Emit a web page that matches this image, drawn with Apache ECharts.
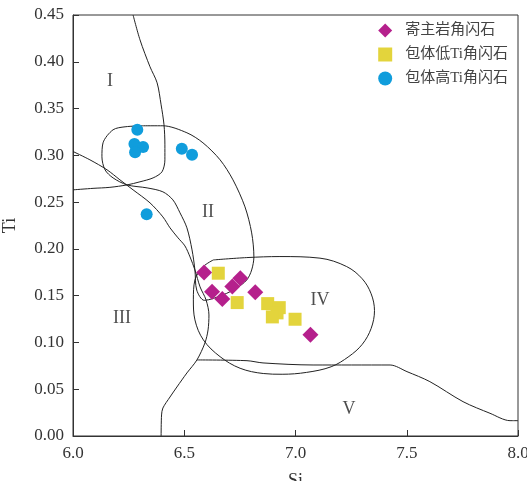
<!DOCTYPE html>
<html>
<head>
<meta charset="utf-8">
<script src="https://cdn.jsdelivr.net/npm/echarts@6/dist/echarts.min.js"></script>
<style>
html,body{margin:0;padding:0;background:#fff;}
#c{width:527px;height:481px;}
</style>
</head>
<body>
<div id="c"></div>
<script>
// ---- data (Si, Ti) ----
const hostName = '寄主岩角闪石';
const lowTiName = '包体低Ti角闪石';
const highTiName = '包体高Ti角闪石';

const hostSi = [6.589, 6.625, 6.671, 6.716, 6.752, 6.819, 7.067];
const hostTi = [0.1747, 0.1543, 0.1465, 0.1597, 0.1687, 0.1537, 0.1083];

const lowTiSi = [6.653, 6.738, 6.875, 6.927, 6.917, 6.896, 6.998];
const lowTiTi = [0.1740, 0.1426, 0.1415, 0.1372, 0.1316, 0.1273, 0.1248];

const highTiSi = [6.289, 6.276, 6.315, 6.279, 6.489, 6.535, 6.331];
const highTiTi = [0.3273, 0.3120, 0.3088, 0.3034, 0.3070, 0.3005, 0.2371];

// field boundary curves, [Si, Ti]
const curveI = [[6.270,0.450],[6.301,0.4235],[6.346,0.3947],[6.378,0.3775],[6.396,0.354],[6.409,0.3326],[6.413,0.3112],[6.413,0.2952],[6.400,0.2824],[6.360,0.2759],[6.301,0.2717],[6.243,0.2684],[6.166,0.2658],[6.090,0.2647],[6.000,0.2631]];
const curveIII = [[6.000,0.3041],[6.076,0.2952],[6.153,0.2845],[6.211,0.2738],[6.270,0.2631],[6.346,0.2492],[6.404,0.2342],[6.436,0.2225],[6.472,0.2118],[6.503,0.2032],[6.526,0.1914],[6.548,0.1775],[6.571,0.1594],[6.598,0.1455],[6.611,0.1294],[6.607,0.1134],[6.593,0.0995],[6.557,0.0813],[6.512,0.0674],[6.467,0.0524],[6.436,0.0417],[6.404,0.0299],[6.398,0.0225],[6.396,0]];
const curveII = [[6.315,0.3316],[6.404,0.3316],[6.512,0.3241],[6.584,0.3134],[6.661,0.2952],[6.719,0.2738],[6.773,0.2449],[6.803,0.2171],[6.813,0.1914],[6.803,0.1775],[6.781,0.1668],[6.736,0.1583],[6.674,0.1508],[6.590,0.1450],[6.556,0.1560],[6.548,0.1775],[6.535,0.1989],[6.512,0.2225],[6.481,0.2385],[6.449,0.2524],[6.404,0.2610],[6.333,0.2652],[6.243,0.2684],[6.180,0.2759],[6.144,0.2845],[6.130,0.2984],[6.135,0.3134],[6.180,0.3273],[6.234,0.3305],[6.315,0.3316]];
const curveIV = [[6.631,0.1882],[6.781,0.1907],[6.930,0.1918],[7.110,0.1901],[7.230,0.1811],[7.300,0.1680],[7.340,0.1520],[7.355,0.1340],[7.340,0.1150],[7.300,0.0980],[7.240,0.0850],[7.160,0.0740],[7.050,0.0680],[6.940,0.0660],[6.855,0.0668],[6.751,0.0724],[6.661,0.0848],[6.586,0.1027],[6.548,0.1241],[6.541,0.1455],[6.548,0.1668],[6.586,0.1811],[6.631,0.1882]];
const curveV = [[6.557,0.0813],[6.782,0.0805],[6.854,0.0781],[7.079,0.0759],[7.425,0.0759],[7.501,0.0688],[7.604,0.0581],[7.753,0.0367],[7.874,0.0243],[7.964,0.0164],[8.000,0.0164]];

const regionNames = ['I', 'II', 'III', 'IV', 'V'];
const regionSi = [6.166, 6.607, 6.220, 7.110, 7.240];
const regionTi = [0.379, 0.2396, 0.1262, 0.1455, 0.0289];

const xTicks = [6.0, 6.5, 7.0, 7.5, 8.0];
const yTicks = [0, 0.05, 0.10, 0.15, 0.20, 0.25, 0.30, 0.35, 0.40, 0.45];

// ---- chart ----
const serif = '"Liberation Serif", "Times New Roman", "DejaVu Serif", serif';
const legendFont = '"Liberation Serif", "Noto Sans CJK SC", serif';
const zip = (a, b) => a.map((v, i) => [v, b[i]]);
const lineStyle = { color: '#222', width: 1 };

function curve(data, smooth) {
  return {
    type: 'line', data: data, showSymbol: false, symbol: 'none',
    smooth: smooth, lineStyle: lineStyle, silent: true, z: 1,
    animation: false
  };
}

const chart = echarts.init(document.getElementById('c'), null, { renderer: 'canvas' });
chart.setOption({
  animation: false,
  backgroundColor: '#fff',
  grid: { left: 73, right: 9, top: 15, bottom: 45, containLabel: false, outerBoundsMode: 'none', show: true, borderColor: '#333', borderWidth: 1, backgroundColor: 'transparent' },
  legend: {
    orient: 'vertical', right: 14, top: 18, itemWidth: 14, itemHeight: 14, itemGap: 9,
    textStyle: { fontFamily: legendFont, fontSize: 15, color: '#444', padding: [0, 0, 0, 8] },
    data: [
      { name: hostName, icon: 'diamond' },
      { name: lowTiName, icon: 'rect' },
      { name: highTiName, icon: 'circle' }
    ]
  },
  xAxis: {
    type: 'value', min: xTicks[0], max: xTicks[xTicks.length - 1], interval: 0.5,
    name: 'Si', nameLocation: 'middle', nameGap: 36,
    nameTextStyle: { fontFamily: serif, fontSize: 18, color: '#333' },
    axisLine: { show: true, lineStyle: { color: '#333', width: 1 } },
    axisTick: { show: true, inside: true, length: 6, lineStyle: { color: '#333' } },
    axisLabel: { fontFamily: serif, fontSize: 17, color: '#333', margin: 9, formatter: v => v.toFixed(1) },
    splitLine: { show: false }
  },
  yAxis: {
    type: 'value', min: 0, max: yTicks[yTicks.length - 1], interval: 0.05,
    name: 'Ti', nameLocation: 'middle', nameGap: 54, nameRotate: 90,
    nameTextStyle: { fontFamily: serif, fontSize: 18, color: '#333' },
    axisLine: { show: true, lineStyle: { color: '#333', width: 1 } },
    axisTick: { show: true, inside: true, length: 6, lineStyle: { color: '#333' } },
    axisLabel: { fontFamily: serif, fontSize: 17, color: '#333', margin: 9, formatter: v => v.toFixed(2) },
    splitLine: { show: false }
  },
  series: [
    curve(curveI, 0.3),
    curve(curveIII, 0.3),
    curve(curveII, 0.3),
    curve(curveIV, 0.35),
    curve(curveV, 0.3),
    {
      type: 'scatter', data: regionNames.map((n, i) => ({ value: [regionSi[i], regionTi[i]], name: n })),
      symbolSize: 0, silent: true, z: 2,
      label: { show: true, position: 'inside', formatter: p => p.name, fontFamily: serif, fontSize: 18, color: '#222' }
    },
    {
      name: highTiName, type: 'scatter', data: zip(highTiSi, highTiTi), symbol: 'circle', symbolSize: 12,
      itemStyle: { color: '#109ddc', opacity: 1 }, z: 5
    },
    {
      name: lowTiName, type: 'scatter', data: zip(lowTiSi, lowTiTi), symbol: 'rect', symbolSize: 13,
      itemStyle: { color: '#e3d43c', opacity: 1 }, z: 5
    },
    {
      name: hostName, type: 'scatter', data: zip(hostSi, hostTi), symbol: 'diamond', symbolSize: 16,
      itemStyle: { color: '#b5208c', opacity: 1 }, z: 6
    }
  ]
});
</script>
</body>
</html>
